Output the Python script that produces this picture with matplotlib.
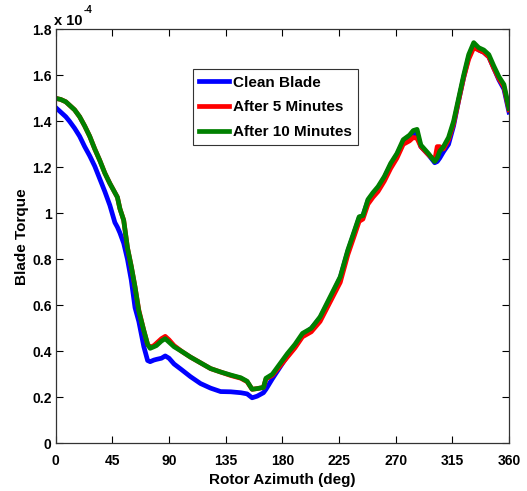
import matplotlib
matplotlib.use("Agg")
import matplotlib.pyplot as plt
import numpy as np

plt.rcParams['font.family'] = ['Liberation Sans', 'DejaVu Sans']
plt.rcParams['font.weight'] = 'bold'

azimuth = [0, 4, 8, 11, 15, 19, 23, 27, 31, 35, 39, 43, 47, 49, 51, 54, 57, 60, 63, 66,
           70, 73, 75, 78, 80, 84, 87, 90, 94, 100, 107, 115, 123, 131, 139, 147, 152,
           156, 160, 165, 167, 172, 178, 184, 190, 196, 203, 210, 218, 226, 232, 237,
           241, 244, 248, 252, 256, 261, 266, 271, 276, 281, 284, 287, 290, 296, 301,
           303, 305, 308, 312, 316, 320, 324, 328, 332, 336, 340, 344, 348, 352, 356, 360]

clean = [1.46, 1.44, 1.42, 1.40, 1.37, 1.335, 1.29, 1.25, 1.205, 1.15, 1.095, 1.035,
         0.96, 0.94, 0.915, 0.87, 0.80, 0.71, 0.59, 0.53, 0.42, 0.36, 0.355, 0.362,
         0.365, 0.37, 0.38, 0.37, 0.345, 0.32, 0.29, 0.26, 0.24, 0.225, 0.224, 0.22,
         0.215, 0.198, 0.205, 0.22, 0.235, 0.28, 0.33, 0.38, 0.42, 0.47, 0.50, 0.545,
         0.63, 0.72, 0.835, 0.915, 0.98, 0.99, 1.055, 1.085, 1.11, 1.155, 1.21, 1.255,
         1.31, 1.33, 1.345, 1.348, 1.29, 1.255, 1.22, 1.225, 1.24, 1.268, 1.30, 1.38,
         1.49, 1.59, 1.68, 1.73, 1.71, 1.70, 1.68, 1.63, 1.58, 1.54, 1.44]

after5 = [1.50, 1.495, 1.485, 1.47, 1.45, 1.42, 1.38, 1.335, 1.28, 1.23, 1.175, 1.13,
          1.09, 1.07, 1.02, 0.97, 0.85, 0.77, 0.68, 0.58, 0.49, 0.43, 0.418, 0.425,
          0.435, 0.455, 0.465, 0.45, 0.425, 0.40, 0.375, 0.35, 0.325, 0.31, 0.295,
          0.283, 0.268, 0.235, 0.238, 0.243, 0.28, 0.295, 0.335, 0.375, 0.415, 0.463,
          0.485, 0.53, 0.615, 0.70, 0.82, 0.90, 0.965, 0.975, 1.04, 1.07, 1.095, 1.14,
          1.195, 1.24, 1.30, 1.315, 1.33, 1.326, 1.29, 1.255, 1.23, 1.29, 1.29, 1.28,
          1.32, 1.39, 1.49, 1.59, 1.67, 1.72, 1.71, 1.70, 1.68, 1.63, 1.585, 1.55, 1.45]

after10 = [1.50, 1.495, 1.485, 1.47, 1.45, 1.42, 1.38, 1.335, 1.28, 1.23, 1.175, 1.13,
           1.09, 1.07, 1.02, 0.97, 0.85, 0.77, 0.68, 0.575, 0.49, 0.43, 0.413, 0.42,
           0.425, 0.445, 0.455, 0.44, 0.42, 0.40, 0.375, 0.35, 0.325, 0.31, 0.297,
           0.285, 0.27, 0.235, 0.238, 0.243, 0.283, 0.30, 0.345, 0.39, 0.43, 0.478,
           0.50, 0.55, 0.637, 0.724, 0.84, 0.92, 0.985, 0.99, 1.06, 1.09, 1.116, 1.16,
           1.217, 1.26, 1.32, 1.34, 1.36, 1.365, 1.297, 1.26, 1.225, 1.24, 1.27, 1.29,
           1.33, 1.40, 1.50, 1.60, 1.69, 1.742, 1.72, 1.71, 1.69, 1.64, 1.594, 1.56,
           1.456]

labels = ['Clean Blade', 'After 5 Minutes', 'After 10 Minutes']
colors = ['#0000ff', '#ff0000', '#008000']
xticks = [0, 45, 90, 135, 180, 225, 270, 315, 360]
yticks = [0, 0.2, 0.4, 0.6, 0.8, 1, 1.2, 1.4, 1.6, 1.8]
ytick_labels = ['0', '0.2', '0.4', '0.6', '0.8', '1', '1.2', '1.4', '1.6', '1.8']

fig = plt.figure(figsize=(5.27, 4.91), dpi=100)
ax = fig.add_axes([0.1057, 0.0971, 0.8601, 0.8432])

for ys, c, lab in zip([clean, after5, after10], colors, labels):
    ax.plot(azimuth, ys, color=c, lw=3.4, label=lab, solid_joinstyle='round')

ax.set_xlim(0, 360)
ax.set_ylim(0, 1.8)
ax.set_xticks(xticks)
ax.set_yticks(yticks)
ax.set_yticklabels(ytick_labels)
ax.tick_params(direction='in', length=5, width=0.8, top=True, right=True,
               labelsize=10, colors='black')
ax.tick_params(axis='x', pad=8)
ax.tick_params(axis='y', pad=3)
for lbl in ax.get_xticklabels() + ax.get_yticklabels():
    lbl.set_fontweight('bold')
for sp in ax.spines.values():
    sp.set_color('#333333')
    sp.set_linewidth(0.9)

ax.set_xlabel('Rotor Azimuth (deg)', fontsize=11, fontweight='bold', labelpad=3)
ax.set_ylabel('Blade Torque', fontsize=11, fontweight='bold', labelpad=2)

fig.text(0.103, 0.949, 'x 10', fontsize=10.5, fontweight='bold', ha='left', va='baseline')
fig.text(0.158, 0.973, '-4', fontsize=7, fontweight='bold', ha='left', va='baseline')

leg = ax.legend(loc='upper left', bbox_to_anchor=(0.303, 0.903), fancybox=False,
                edgecolor='#333333', framealpha=1, prop={'weight': 'bold', 'size': 11},
                handlelength=1.95, borderpad=0.4, labelspacing=0.7, handletextpad=0.25,
                borderaxespad=0)
leg.get_frame().set_linewidth(0.8)

fig.savefig('out.png', dpi=100)
